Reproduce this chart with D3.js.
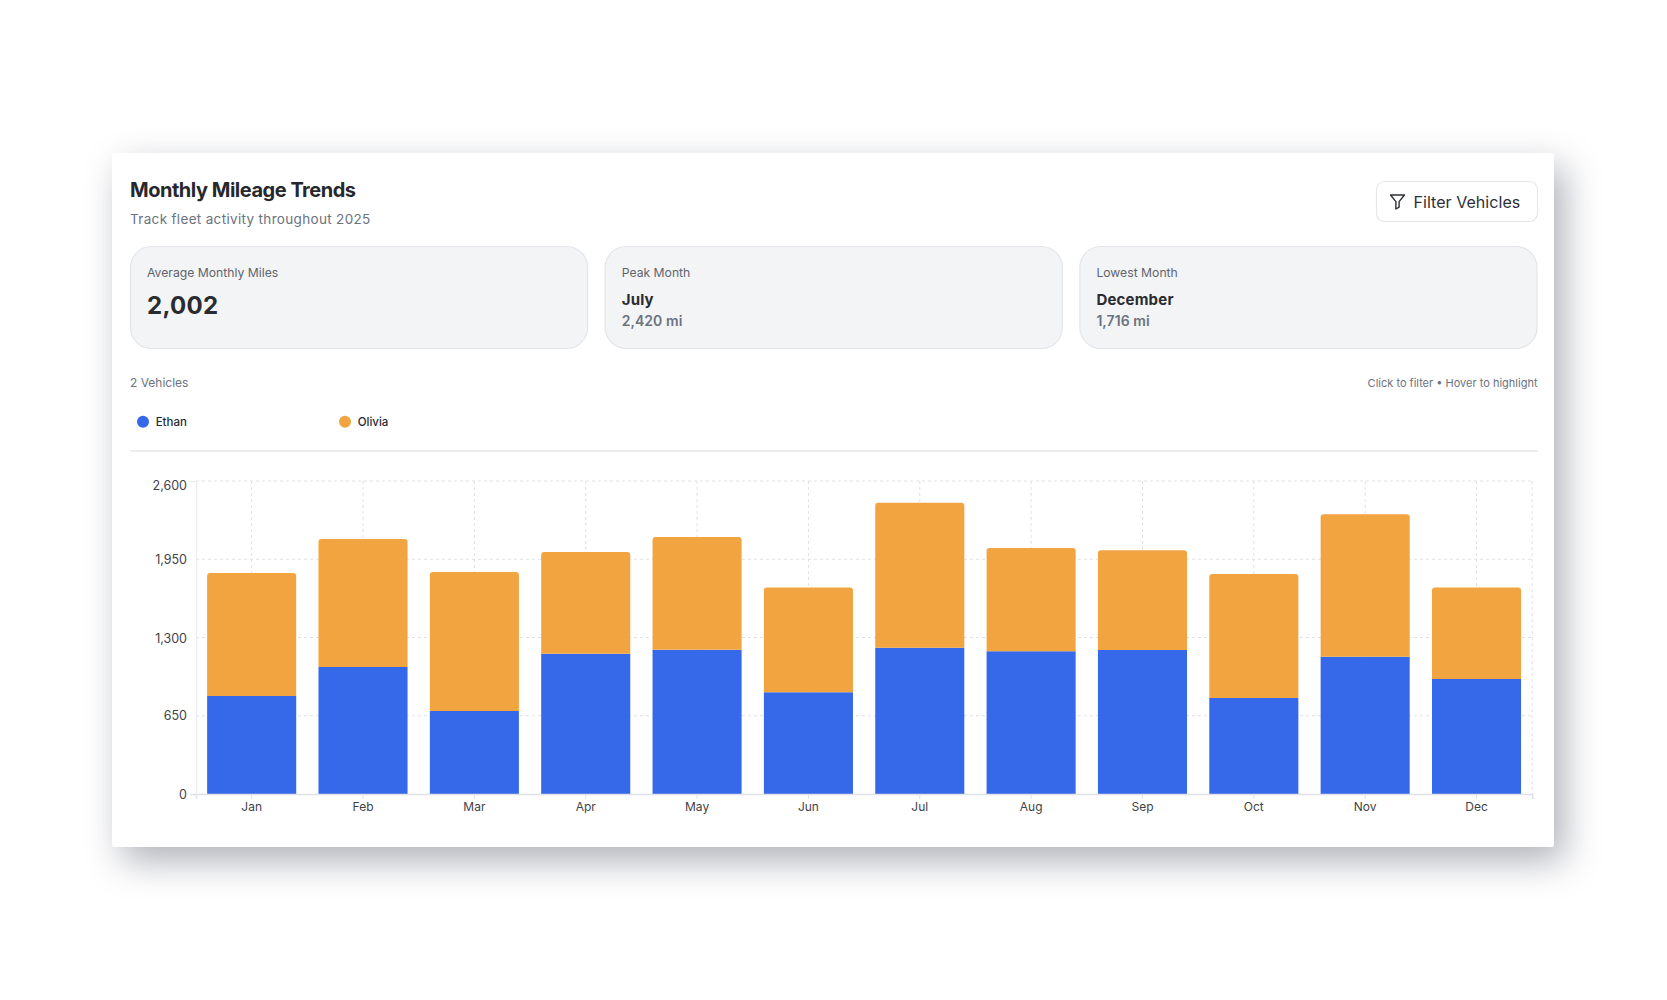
<!DOCTYPE html>
<html><head><meta charset="utf-8">
<script src="https://cdn.jsdelivr.net/npm/d3@7/dist/d3.min.js"></script>
<style>
html,body{margin:0;padding:0;background:#fff;width:1667px;height:1000px;overflow:hidden}
#card{position:absolute;left:112px;top:153px;width:1442px;height:694px;background:#fff;border-radius:2px;box-shadow:10px 14px 36px rgba(45,50,70,.38)}
svg{position:absolute;left:0;top:0;font-family:Inter,sans-serif}
</style></head><body>
<div id="card"></div>
<svg id="s" width="1667" height="1000"></svg>
<script>
const months=["Jan","Feb","Mar","Apr","May","Jun","Jul","Aug","Sep","Oct","Nov","Dec"];
const ethan=[814,1055,690,1165,1199,845,1215,1185,1196,797,1141,955];
const olivia=[1022,1063,1154,845,936,871,1205,858,828,1030,1182,761];
const seriesNames=["Ethan","Olivia"];
const seriesColors=["#3569ea","#f2a441"];
const yTicks=[0,650,1300,1950,2600];
const stats=[
 {label:"Average Monthly Miles",big:"2,002"},
 {label:"Peak Month",name:"July",sub:"2,420 mi"},
 {label:"Lowest Month",name:"December",sub:"1,716 mi"}];

const svg=d3.select("#s");
function txt(x,y,t,o={}){
  return svg.append("text").attr("x",x).attr("y",y).text(t)
   .attr("font-size",o.size||12).attr("font-weight",o.weight||400)
   .attr("fill",o.fill||"#6b7280").attr("text-anchor",o.anchor||"start")
   .attr("letter-spacing",o.ls||0).attr("dominant-baseline","auto");
}
// header
txt(130,197,"Monthly Mileage Trends",{size:20,weight:700,fill:"#27282c",ls:-.48});
txt(130,223.5,"Track fleet activity throughout 2025",{size:13.5,fill:"#6b7280",ls:.33});
svg.append("rect").attr("x",1376.5).attr("y",181.5).attr("width",161).attr("height",40).attr("rx",8)
  .attr("fill","#fff").attr("stroke","#e5e7eb").attr("stroke-width",1.2);
svg.append("path").attr("transform","translate(1389.5,194)")
  .attr("d","M1 1H15L9.6 7.6V13.2L6.4 15V7.6Z").attr("fill","none").attr("stroke","#2d3036").attr("stroke-width",1.4).attr("stroke-linejoin","round");
txt(1413.5,207.5,"Filter Vehicles",{size:16,weight:400,fill:"#2d3036",ls:.05});

// stat cards
const cx=d3.scaleBand().domain(d3.range(3)).range([130,1537.5]).paddingInner(0.0349).paddingOuter(0);
stats.forEach((d,i)=>{
  const x=cx(i);
  svg.append("rect").attr("x",x+.5).attr("y",246.5).attr("width",cx.bandwidth()-1).attr("height",102).attr("rx",21)
    .attr("fill","#f3f4f6").attr("stroke","#e3e5e9").attr("stroke-width",1.2);
  txt(x+17,277,d.label,{size:12.2,fill:"#60646d"});
  if(d.big) txt(x+17,314,d.big,{size:24,weight:700,fill:"#2a2b2f",ls:.3});
  else{
    txt(x+17,305,d.name,{size:15,weight:700,fill:"#2a2b2f",ls:.2});
    txt(x+17,326,d.sub,{size:14,weight:600,fill:"#6b7280",ls:.05});
  }
});

// legend row
txt(130,387,"2 Vehicles",{size:12,fill:"#6b7280"});
txt(1537.5,387,"Click to filter • Hover to highlight",{size:11,fill:"#6b7280",anchor:"end"});
const lx=d3.scaleOrdinal().domain(seriesNames).range([143,345]);
seriesNames.forEach((n,i)=>{
  svg.append("circle").attr("cx",lx(n)).attr("cy",421.8).attr("r",6).attr("fill",seriesColors[i]);
  txt(lx(n)+12.7,426,n,{size:11.5,weight:500,fill:"#1f2937"});
});
svg.append("line").attr("x1",130).attr("x2",1537.5).attr("y1",451).attr("y2",451).attr("stroke","#e5e7eb").attr("stroke-width",1.5);

// chart
const x=d3.scaleBand().domain(months).range([196,1532.2]).paddingInner(0.2).paddingOuter(0.1);
const y=d3.scaleLinear().domain([0,2600]).range([794,481]);
const grid=svg.append("g").attr("stroke","#dfe1e5").attr("stroke-dasharray","3 3").attr("stroke-width",1);
grid.selectAll("line.h").data(yTicks.slice(1)).join("line").attr("class","h")
  .attr("x1",x.range()[0]).attr("x2",x.range()[1]).attr("y1",d=>y(d)).attr("y2",d=>y(d));
grid.selectAll("line.v").data(months).join("line").attr("class","v")
  .attr("x1",d=>x(d)+x.bandwidth()/2).attr("x2",d=>x(d)+x.bandwidth()/2).attr("y1",y(2600)).attr("y2",y(0));
grid.append("line").attr("x1",x.range()[1]).attr("x2",x.range()[1]).attr("y1",y(2600)).attr("y2",y(0));

const stack=d3.stack().keys([0,1]).value((d,k)=>d[k]);
const rows=months.map((m,i)=>[ethan[i],olivia[i]]);
const layers=stack(rows);
layers.forEach((layer,k)=>{
  svg.append("g").selectAll("path").data(layer).join("path")
   .attr("fill",seriesColors[k])
   .attr("d",(d,i)=>{
     const x0=x(months[i]),x1=x0+x.bandwidth(),yb=y(d[0]),yt=y(d[1]),r=k===1?3:0;
     const p=d3.path();
     p.moveTo(x0,yb);p.lineTo(x0,yt+r);
     if(r)p.arcTo(x0,yt,x0+r,yt,r);
     p.lineTo(x1-r,yt);
     if(r)p.arcTo(x1,yt,x1,yt+r,r);
     p.lineTo(x1,yb);p.closePath();
     return p.toString();
   });
});

// axes
const gx=svg.append("g").attr("transform",`translate(0,${y(0)})`).call(d3.axisBottom(x).tickSize(5).tickPadding(3));
gx.selectAll(".domain").attr("stroke","#dfe1e6").attr("stroke-width",1.5);
gx.selectAll(".tick line").attr("stroke","#dfe1e6");
gx.selectAll("text").attr("font-family","Inter,sans-serif").attr("font-size",12).attr("fill","#3f4248");
const gy=svg.append("g").attr("transform",`translate(${x.range()[0]},0)`).call(d3.axisLeft(y).tickValues(yTicks).tickFormat(d3.format(",")).tickSize(6).tickPadding(3));
gy.selectAll(".domain").attr("stroke","#eceef1").attr("stroke-width",1.5);
gy.selectAll(".tick line").attr("stroke","#dfe1e6").attr("stroke-width",1.2).filter(d=>d!==0).remove();
gy.selectAll("text").attr("font-family","Inter,sans-serif").attr("font-size",12.5).attr("fill","#3f4248");
gy.selectAll(".tick").filter(d=>d===2600).select("text").attr("dy","0.66em");
gy.selectAll(".tick").filter(d=>d===1300).select("text").attr("dy","0.4em");
</script>
</body></html>
